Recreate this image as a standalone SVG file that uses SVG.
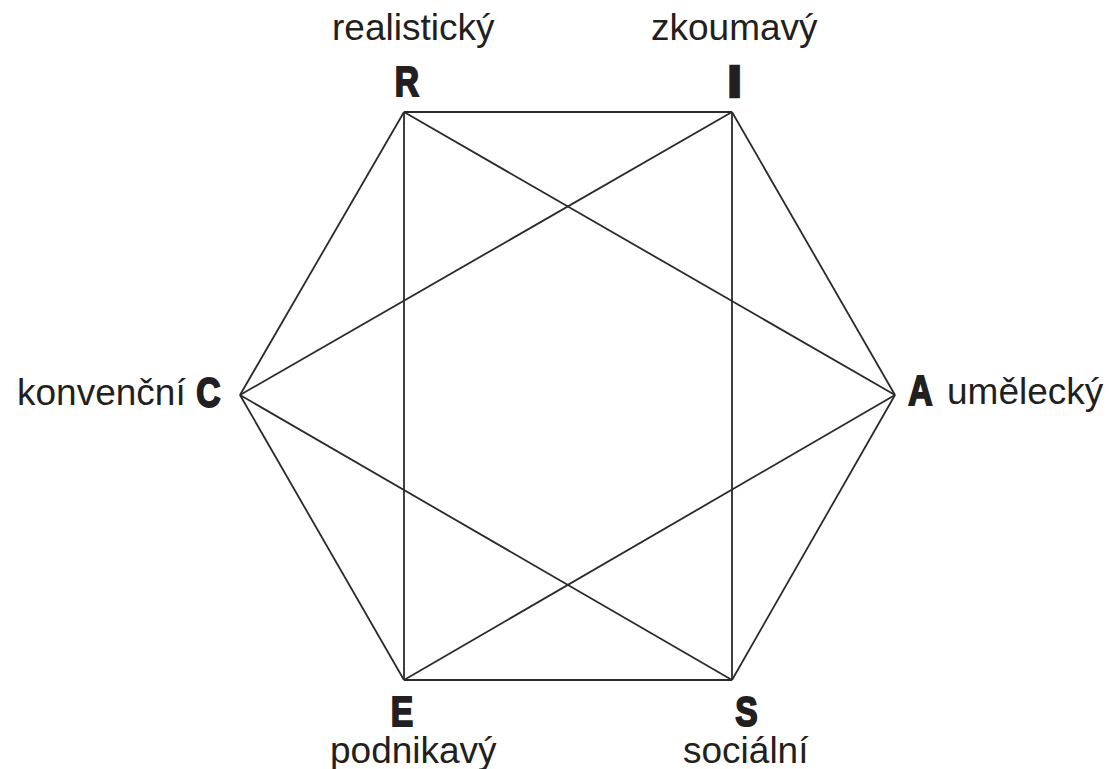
<svg xmlns="http://www.w3.org/2000/svg" width="1109" height="769" viewBox="0 0 1109 769">
<style>
.edge{stroke:#2b2b2b;stroke-width:1.8;fill:none;stroke-linejoin:miter}
.lab{font-family:"Liberation Sans",Arial,sans-serif;font-size:37px;fill:#231f20}
.big{font-family:"Liberation Sans",Arial,sans-serif;font-size:42px;font-weight:bold;fill:#231f20;stroke:#231f20;stroke-width:2;text-anchor:middle}
</style>
<rect width="1109" height="769" fill="#ffffff"/>
<g id="connectors">
<line class="edge" x1="404" y1="112" x2="732" y2="112"/>
<line class="edge" x1="732" y1="112" x2="895" y2="395"/>
<line class="edge" x1="895" y1="395" x2="732" y2="680"/>
<line class="edge" x1="732" y1="680" x2="404" y2="680"/>
<line class="edge" x1="404" y1="680" x2="240" y2="395"/>
<line class="edge" x1="240" y1="395" x2="404" y2="112"/>
<line class="edge" x1="404" y1="112" x2="404" y2="680"/>
<line class="edge" x1="732" y1="112" x2="732" y2="680"/>
<line class="edge" x1="404" y1="112" x2="895" y2="395"/>
<line class="edge" x1="895" y1="395" x2="404" y2="680"/>
<line class="edge" x1="732" y1="112" x2="240" y2="395"/>
<line class="edge" x1="240" y1="395" x2="732" y2="680"/>
</g>
<g id="node-R">
<text class="lab" x="332" y="40">realistický</text>
<text class="big" transform="translate(407,96) scale(0.8,1)">R</text>
</g>
<g id="node-I">
<text class="lab" x="651" y="40">zkoumavý</text>
<text class="big" style="stroke-width:4.5" transform="translate(734.5,96) scale(1,1)">I</text>
</g>
<g id="node-C">
<text class="lab" x="17" y="405">konvenční</text>
<text class="big" transform="translate(208.5,407) scale(0.8,1)">C</text>
</g>
<g id="node-A">
<text class="lab" x="947" y="404">umělecký</text>
<text class="big" transform="translate(920.5,405) scale(0.8,1)">A</text>
</g>
<g id="node-E">
<text class="big" transform="translate(402,726) scale(0.8,1)">E</text>
<text class="lab" x="330" y="763">podnikavý</text>
</g>
<g id="node-S">
<text class="big" transform="translate(746.5,726) scale(0.8,1)">S</text>
<text class="lab" x="683" y="763">sociální</text>
</g>
</svg>
